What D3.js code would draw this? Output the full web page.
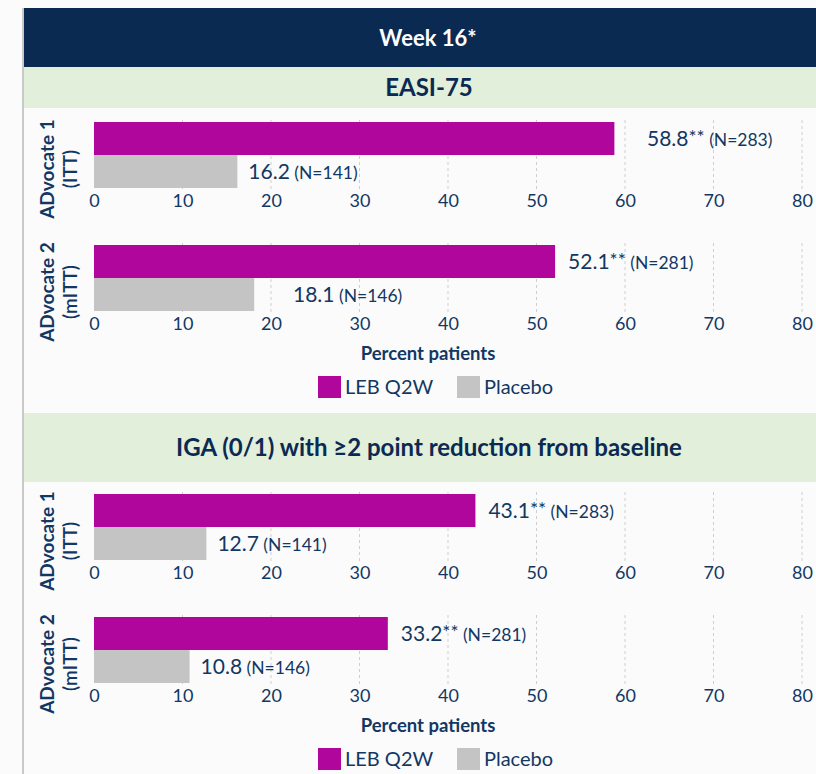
<!DOCTYPE html>
<html>
<head>
<meta charset="utf-8">
<script src="https://cdn.jsdelivr.net/npm/d3@7"></script>
<style>
  body { margin: 0; background: #fbfbfb; }
  svg { display: block; font-family: Lato, "Open Sans", sans-serif; }
</style>
</head>
<body>
<div class="main"></div>
<script>
// chart data
var studies = ["ADvocate 1", "ADvocate 2"];
var populations = ["(ITT)", "(mITT)"];
var endpoints = ["EASI-75", "IGA (0/1) with \u22652 point reduction from baseline"];
var seriesNames = ["LEB Q2W", "Placebo"];
var lebValues = [[58.8, 52.1], [43.1, 33.2]];
var placeboValues = [[16.2, 18.1], [12.7, 10.8]];
var lebN = [283, 281];
var placeboN = [141, 146];
var xTicks = [0, 10, 20, 30, 40, 50, 60, 70, 80];
var title = "Week 16*";
var axisTitle = "Percent patients";

var W = 816, H = 774;
var navy = "#0b2a52", textNavy = "#123763", green = "#e2efda";
var colors = ["#b1069b", "#c4c4c4"];

var svg = d3.select(".main").append("svg")
    .attr("width", W).attr("height", H);

svg.append("rect").attr("width", W).attr("height", H).attr("fill", "#fbfbfb");

// left border
svg.append("line")
    .attr("x1", 23).attr("x2", 23).attr("y1", 8).attr("y2", H)
    .attr("stroke", "#c9c9c9").attr("stroke-width", 2);

// header
svg.append("rect").attr("x", 24).attr("y", 8).attr("width", 820).attr("height", 59).attr("fill", navy);
svg.append("text").attr("x", 428).attr("y", 38).attr("dy", "0.35em")
    .attr("text-anchor", "middle").attr("fill", "#fff")
    .attr("font-size", 22).attr("font-weight", 700).text(title);

var x = d3.scaleLinear().domain([0, 80]).range([94, 802]);
var band = d3.scaleBand().domain(seriesNames).range([0, 66]);

// section layout: band top, band height, panel tops
var sections = [
    {bandTop: 67, bandH: 41, panels: [122, 245]},
    {bandTop: 413, bandH: 69, panels: [494, 617]}
];

sections.forEach(function(sec, si) {
    svg.append("rect").attr("x", 24).attr("y", sec.bandTop).attr("width", 820)
        .attr("height", sec.bandH).attr("fill", green);
    svg.append("text").attr("x", 429).attr("y", sec.bandTop + sec.bandH / 2).attr("dy", "0.35em")
        .attr("text-anchor", "middle").attr("fill", navy)
        .attr("font-size", 24).attr("font-weight", 700).text(endpoints[si]);

    sec.panels.forEach(function(top, pi) {
        var g = svg.append("g").attr("transform", "translate(0," + top + ")");

        // dashed gridlines
        g.selectAll(".grid").data(xTicks.slice(1)).enter().append("line")
            .attr("x1", function(d) { return x(d); })
            .attr("x2", function(d) { return x(d); })
            .attr("y1", -2).attr("y2", band.range()[1] + 1)
            .attr("stroke", "#cfcfcf").attr("stroke-dasharray", "3,3");

        var rows = [
            {key: seriesNames[0], v: lebValues[si][pi], n: lebN[pi], stars: "**", color: colors[0], gap: 13},
            {key: seriesNames[1], v: placeboValues[si][pi], n: placeboN[pi], stars: "", color: colors[1], gap: 11}
        ];

        g.selectAll(".bar").data(rows).enter().append("rect")
            .attr("x", x(0))
            .attr("y", function(d) { return band(d.key); })
            .attr("width", function(d) { return x(d.v) - x(0); })
            .attr("height", band.bandwidth())
            .attr("fill", function(d) { return d.color; });

        rows.forEach(function(d) {
            var lx = x(d.v) + d.gap;
            // keep the label clear of a gridline right after the bar
            xTicks.forEach(function(t) {
                if (x(t) >= lx - 4 && x(t) <= lx + 14) lx = x(t) + 22;
            });
            var t = g.append("text")
                .attr("x", lx)
                .attr("y", band(d.key) + band.bandwidth() / 2 + 2)
                .attr("dy", "0.35em")
                .attr("fill", textNavy);
            t.append("tspan").attr("font-size", 21).text(d.v.toFixed(1));
            if (d.stars) t.append("tspan").attr("font-size", 19).attr("dy", "-0.1em").text(d.stars);
            t.append("tspan").attr("font-size", 17.5).attr("dy", d.stars ? "0.1em" : null)
                .text(" (N=" + d.n + ")");
        });

        var axis = g.append("g")
            .attr("transform", "translate(0," + band.range()[1] + ")")
            .call(d3.axisBottom(x).tickValues(xTicks).tickSize(0).tickPadding(6));
        axis.select(".domain").remove();
        axis.selectAll("text").attr("font-size", 18).attr("fill", textNavy)
            .attr("font-family", "Lato, sans-serif");

        // rotated study label
        var yl = g.append("text")
            .attr("transform", "translate(54,47) rotate(-90)")
            .attr("text-anchor", "middle").attr("fill", textNavy)
            .attr("font-size", 19).attr("font-weight", 700);
        yl.append("tspan").attr("x", 0).attr("dy", 0).text(studies[pi]);
        yl.append("tspan").attr("x", 0).attr("dy", "1.2em").attr("font-weight", 600).text(populations[pi]);

        if (pi === sec.panels.length - 1) {
            g.append("text").attr("x", 428).attr("y", 109).attr("dy", "0.35em")
                .attr("text-anchor", "middle").attr("fill", textNavy)
                .attr("font-size", 18.5).attr("font-weight", 700).text(axisTitle);

            var lg = g.selectAll(".leg").data(seriesNames).enter().append("g")
                .attr("transform", function(d, i) { return "translate(" + (i === 0 ? 318 : 457) + ",131)"; });
            lg.append("rect").attr("width", 23).attr("height", 22)
                .attr("fill", function(d, i) { return colors[i]; });
            lg.append("text").attr("x", 27).attr("y", 11).attr("dy", "0.35em")
                .attr("fill", textNavy).attr("font-size", 20).text(function(d) { return d; });
        }
    });
});
</script>
</body>
</html>
